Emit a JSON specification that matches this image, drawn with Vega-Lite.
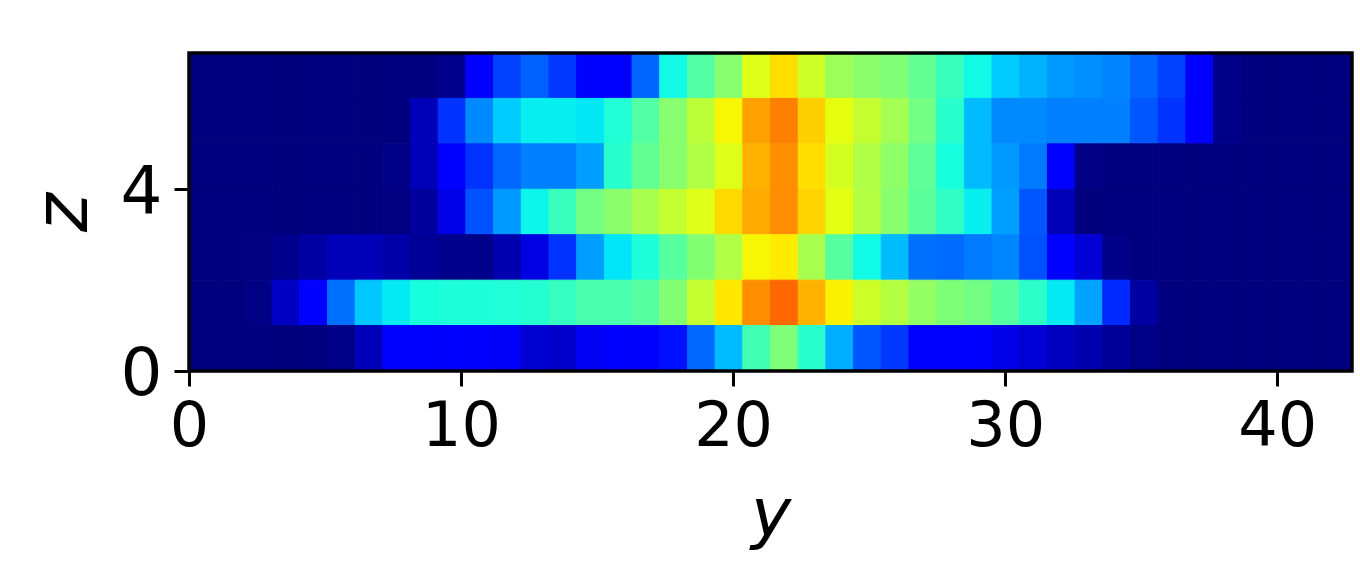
{"$schema":"https://vega.github.io/schema/vega-lite/v6.json","width":1163,"height":318,"autosize":"none","padding":{"left":189,"top":53,"right":8,"bottom":209},"background":"white","config":{"view":{"stroke":null},"font":"DejaVu Sans"},"layer":[{"data":{"values":[
{"y0":0,"y1":1.018,"z0":6,"z1":7,"v":0},{"y0":1.018,"y1":2.036,"z0":6,"z1":7,"v":0},{"y0":2.036,"y1":3.054,"z0":6,"z1":7,"v":0},{"y0":3.054,"y1":4.071,"z0":6,"z1":7,"v":0},{"y0":4.071,"y1":5.089,"z0":6,"z1":7,"v":0},{"y0":5.089,"y1":6.107,"z0":6,"z1":7,"v":0},{"y0":6.107,"y1":7.125,"z0":6,"z1":7,"v":0},{"y0":7.125,"y1":8.143,"z0":6,"z1":7,"v":0},{"y0":8.143,"y1":9.161,"z0":6,"z1":7,"v":0},{"y0":9.161,"y1":10.179,"z0":6,"z1":7,"v":0.012},{"y0":10.179,"y1":11.196,"z0":6,"z1":7,"v":0.11},{"y0":11.196,"y1":12.214,"z0":6,"z1":7,"v":0.19},{"y0":12.214,"y1":13.232,"z0":6,"z1":7,"v":0.22},{"y0":13.232,"y1":14.25,"z0":6,"z1":7,"v":0.18},{"y0":14.25,"y1":15.268,"z0":6,"z1":7,"v":0.115},{"y0":15.268,"y1":16.286,"z0":6,"z1":7,"v":0.115},{"y0":16.286,"y1":17.304,"z0":6,"z1":7,"v":0.225},{"y0":17.304,"y1":18.321,"z0":6,"z1":7,"v":0.37},{"y0":18.321,"y1":19.339,"z0":6,"z1":7,"v":0.45},{"y0":19.339,"y1":20.357,"z0":6,"z1":7,"v":0.515},{"y0":20.357,"y1":21.375,"z0":6,"z1":7,"v":0.62},{"y0":21.375,"y1":22.393,"z0":6,"z1":7,"v":0.675},{"y0":22.393,"y1":23.411,"z0":6,"z1":7,"v":0.6},{"y0":23.411,"y1":24.429,"z0":6,"z1":7,"v":0.54},{"y0":24.429,"y1":25.446,"z0":6,"z1":7,"v":0.52},{"y0":25.446,"y1":26.464,"z0":6,"z1":7,"v":0.505},{"y0":26.464,"y1":27.482,"z0":6,"z1":7,"v":0.47},{"y0":27.482,"y1":28.5,"z0":6,"z1":7,"v":0.42},{"y0":28.5,"y1":29.518,"z0":6,"z1":7,"v":0.37},{"y0":29.518,"y1":30.536,"z0":6,"z1":7,"v":0.325},{"y0":30.536,"y1":31.554,"z0":6,"z1":7,"v":0.3},{"y0":31.554,"y1":32.571,"z0":6,"z1":7,"v":0.275},{"y0":32.571,"y1":33.589,"z0":6,"z1":7,"v":0.265},{"y0":33.589,"y1":34.607,"z0":6,"z1":7,"v":0.255},{"y0":34.607,"y1":35.625,"z0":6,"z1":7,"v":0.225},{"y0":35.625,"y1":36.643,"z0":6,"z1":7,"v":0.19},{"y0":36.643,"y1":37.661,"z0":6,"z1":7,"v":0.12},{"y0":37.661,"y1":38.679,"z0":6,"z1":7,"v":0.008},{"y0":38.679,"y1":39.696,"z0":6,"z1":7,"v":0},{"y0":39.696,"y1":40.714,"z0":6,"z1":7,"v":0},{"y0":40.714,"y1":41.732,"z0":6,"z1":7,"v":0},{"y0":41.732,"y1":42.75,"z0":6,"z1":7,"v":0},
{"y0":0,"y1":1.018,"z0":5,"z1":6,"v":0},{"y0":1.018,"y1":2.036,"z0":5,"z1":6,"v":0},{"y0":2.036,"y1":3.054,"z0":5,"z1":6,"v":0},{"y0":3.054,"y1":4.071,"z0":5,"z1":6,"v":0},{"y0":4.071,"y1":5.089,"z0":5,"z1":6,"v":0},{"y0":5.089,"y1":6.107,"z0":5,"z1":6,"v":0},{"y0":6.107,"y1":7.125,"z0":5,"z1":6,"v":0},{"y0":7.125,"y1":8.143,"z0":5,"z1":6,"v":0},{"y0":8.143,"y1":9.161,"z0":5,"z1":6,"v":0.05},{"y0":9.161,"y1":10.179,"z0":5,"z1":6,"v":0.175},{"y0":10.179,"y1":11.196,"z0":5,"z1":6,"v":0.26},{"y0":11.196,"y1":12.214,"z0":5,"z1":6,"v":0.325},{"y0":12.214,"y1":13.232,"z0":5,"z1":6,"v":0.36},{"y0":13.232,"y1":14.25,"z0":5,"z1":6,"v":0.36},{"y0":14.25,"y1":15.268,"z0":5,"z1":6,"v":0.352},{"y0":15.268,"y1":16.286,"z0":5,"z1":6,"v":0.39},{"y0":16.286,"y1":17.304,"z0":5,"z1":6,"v":0.45},{"y0":17.304,"y1":18.321,"z0":5,"z1":6,"v":0.515},{"y0":18.321,"y1":19.339,"z0":5,"z1":6,"v":0.58},{"y0":19.339,"y1":20.357,"z0":5,"z1":6,"v":0.65},{"y0":20.357,"y1":21.375,"z0":5,"z1":6,"v":0.74},{"y0":21.375,"y1":22.393,"z0":5,"z1":6,"v":0.775},{"y0":22.393,"y1":23.411,"z0":5,"z1":6,"v":0.69},{"y0":23.411,"y1":24.429,"z0":5,"z1":6,"v":0.63},{"y0":24.429,"y1":25.446,"z0":5,"z1":6,"v":0.59},{"y0":25.446,"y1":26.464,"z0":5,"z1":6,"v":0.55},{"y0":26.464,"y1":27.482,"z0":5,"z1":6,"v":0.49},{"y0":27.482,"y1":28.5,"z0":5,"z1":6,"v":0.4},{"y0":28.5,"y1":29.518,"z0":5,"z1":6,"v":0.31},{"y0":29.518,"y1":30.536,"z0":5,"z1":6,"v":0.26},{"y0":30.536,"y1":31.554,"z0":5,"z1":6,"v":0.26},{"y0":31.554,"y1":32.571,"z0":5,"z1":6,"v":0.25},{"y0":32.571,"y1":33.589,"z0":5,"z1":6,"v":0.25},{"y0":33.589,"y1":34.607,"z0":5,"z1":6,"v":0.25},{"y0":34.607,"y1":35.625,"z0":5,"z1":6,"v":0.21},{"y0":35.625,"y1":36.643,"z0":5,"z1":6,"v":0.175},{"y0":36.643,"y1":37.661,"z0":5,"z1":6,"v":0.12},{"y0":37.661,"y1":38.679,"z0":5,"z1":6,"v":0.008},{"y0":38.679,"y1":39.696,"z0":5,"z1":6,"v":0},{"y0":39.696,"y1":40.714,"z0":5,"z1":6,"v":0},{"y0":40.714,"y1":41.732,"z0":5,"z1":6,"v":0},{"y0":41.732,"y1":42.75,"z0":5,"z1":6,"v":0},
{"y0":0,"y1":1.018,"z0":4,"z1":5,"v":0},{"y0":1.018,"y1":2.036,"z0":4,"z1":5,"v":0},{"y0":2.036,"y1":3.054,"z0":4,"z1":5,"v":0},{"y0":3.054,"y1":4.071,"z0":4,"z1":5,"v":0},{"y0":4.071,"y1":5.089,"z0":4,"z1":5,"v":0},{"y0":5.089,"y1":6.107,"z0":4,"z1":5,"v":0},{"y0":6.107,"y1":7.125,"z0":4,"z1":5,"v":0},{"y0":7.125,"y1":8.143,"z0":4,"z1":5,"v":0.006},{"y0":8.143,"y1":9.161,"z0":4,"z1":5,"v":0.05},{"y0":9.161,"y1":10.179,"z0":4,"z1":5,"v":0.115},{"y0":10.179,"y1":11.196,"z0":4,"z1":5,"v":0.175},{"y0":11.196,"y1":12.214,"z0":4,"z1":5,"v":0.227},{"y0":12.214,"y1":13.232,"z0":4,"z1":5,"v":0.25},{"y0":13.232,"y1":14.25,"z0":4,"z1":5,"v":0.25},{"y0":14.25,"y1":15.268,"z0":4,"z1":5,"v":0.28},{"y0":15.268,"y1":16.286,"z0":4,"z1":5,"v":0.4},{"y0":16.286,"y1":17.304,"z0":4,"z1":5,"v":0.47},{"y0":17.304,"y1":18.321,"z0":4,"z1":5,"v":0.515},{"y0":18.321,"y1":19.339,"z0":4,"z1":5,"v":0.565},{"y0":19.339,"y1":20.357,"z0":4,"z1":5,"v":0.62},{"y0":20.357,"y1":21.375,"z0":4,"z1":5,"v":0.72},{"y0":21.375,"y1":22.393,"z0":4,"z1":5,"v":0.76},{"y0":22.393,"y1":23.411,"z0":4,"z1":5,"v":0.675},{"y0":23.411,"y1":24.429,"z0":4,"z1":5,"v":0.61},{"y0":24.429,"y1":25.446,"z0":4,"z1":5,"v":0.565},{"y0":25.446,"y1":26.464,"z0":4,"z1":5,"v":0.525},{"y0":26.464,"y1":27.482,"z0":4,"z1":5,"v":0.465},{"y0":27.482,"y1":28.5,"z0":4,"z1":5,"v":0.38},{"y0":28.5,"y1":29.518,"z0":4,"z1":5,"v":0.31},{"y0":29.518,"y1":30.536,"z0":4,"z1":5,"v":0.275},{"y0":30.536,"y1":31.554,"z0":4,"z1":5,"v":0.245},{"y0":31.554,"y1":32.571,"z0":4,"z1":5,"v":0.12},{"y0":32.571,"y1":33.589,"z0":4,"z1":5,"v":0.006},{"y0":33.589,"y1":34.607,"z0":4,"z1":5,"v":0},{"y0":34.607,"y1":35.625,"z0":4,"z1":5,"v":0},{"y0":35.625,"y1":36.643,"z0":4,"z1":5,"v":0},{"y0":36.643,"y1":37.661,"z0":4,"z1":5,"v":0},{"y0":37.661,"y1":38.679,"z0":4,"z1":5,"v":0},{"y0":38.679,"y1":39.696,"z0":4,"z1":5,"v":0},{"y0":39.696,"y1":40.714,"z0":4,"z1":5,"v":0},{"y0":40.714,"y1":41.732,"z0":4,"z1":5,"v":0},{"y0":41.732,"y1":42.75,"z0":4,"z1":5,"v":0},
{"y0":0,"y1":1.018,"z0":3,"z1":4,"v":0},{"y0":1.018,"y1":2.036,"z0":3,"z1":4,"v":0},{"y0":2.036,"y1":3.054,"z0":3,"z1":4,"v":0},{"y0":3.054,"y1":4.071,"z0":3,"z1":4,"v":0},{"y0":4.071,"y1":5.089,"z0":3,"z1":4,"v":0},{"y0":5.089,"y1":6.107,"z0":3,"z1":4,"v":0},{"y0":6.107,"y1":7.125,"z0":3,"z1":4,"v":0},{"y0":7.125,"y1":8.143,"z0":3,"z1":4,"v":0.002},{"y0":8.143,"y1":9.161,"z0":3,"z1":4,"v":0.025},{"y0":9.161,"y1":10.179,"z0":3,"z1":4,"v":0.09},{"y0":10.179,"y1":11.196,"z0":3,"z1":4,"v":0.205},{"y0":11.196,"y1":12.214,"z0":3,"z1":4,"v":0.275},{"y0":12.214,"y1":13.232,"z0":3,"z1":4,"v":0.365},{"y0":13.232,"y1":14.25,"z0":3,"z1":4,"v":0.42},{"y0":14.25,"y1":15.268,"z0":3,"z1":4,"v":0.49},{"y0":15.268,"y1":16.286,"z0":3,"z1":4,"v":0.52},{"y0":16.286,"y1":17.304,"z0":3,"z1":4,"v":0.555},{"y0":17.304,"y1":18.321,"z0":3,"z1":4,"v":0.59},{"y0":18.321,"y1":19.339,"z0":3,"z1":4,"v":0.62},{"y0":19.339,"y1":20.357,"z0":3,"z1":4,"v":0.68},{"y0":20.357,"y1":21.375,"z0":3,"z1":4,"v":0.73},{"y0":21.375,"y1":22.393,"z0":3,"z1":4,"v":0.76},{"y0":22.393,"y1":23.411,"z0":3,"z1":4,"v":0.685},{"y0":23.411,"y1":24.429,"z0":3,"z1":4,"v":0.625},{"y0":24.429,"y1":25.446,"z0":3,"z1":4,"v":0.57},{"y0":25.446,"y1":26.464,"z0":3,"z1":4,"v":0.515},{"y0":26.464,"y1":27.482,"z0":3,"z1":4,"v":0.46},{"y0":27.482,"y1":28.5,"z0":3,"z1":4,"v":0.41},{"y0":28.5,"y1":29.518,"z0":3,"z1":4,"v":0.36},{"y0":29.518,"y1":30.536,"z0":3,"z1":4,"v":0.28},{"y0":30.536,"y1":31.554,"z0":3,"z1":4,"v":0.21},{"y0":31.554,"y1":32.571,"z0":3,"z1":4,"v":0.05},{"y0":32.571,"y1":33.589,"z0":3,"z1":4,"v":0},{"y0":33.589,"y1":34.607,"z0":3,"z1":4,"v":0},{"y0":34.607,"y1":35.625,"z0":3,"z1":4,"v":0},{"y0":35.625,"y1":36.643,"z0":3,"z1":4,"v":0},{"y0":36.643,"y1":37.661,"z0":3,"z1":4,"v":0},{"y0":37.661,"y1":38.679,"z0":3,"z1":4,"v":0},{"y0":38.679,"y1":39.696,"z0":3,"z1":4,"v":0},{"y0":39.696,"y1":40.714,"z0":3,"z1":4,"v":0},{"y0":40.714,"y1":41.732,"z0":3,"z1":4,"v":0},{"y0":41.732,"y1":42.75,"z0":3,"z1":4,"v":0},
{"y0":0,"y1":1.018,"z0":2,"z1":3,"v":0},{"y0":1.018,"y1":2.036,"z0":2,"z1":3,"v":0},{"y0":2.036,"y1":3.054,"z0":2,"z1":3,"v":0.001},{"y0":3.054,"y1":4.071,"z0":2,"z1":3,"v":0.012},{"y0":4.071,"y1":5.089,"z0":2,"z1":3,"v":0.03},{"y0":5.089,"y1":6.107,"z0":2,"z1":3,"v":0.05},{"y0":6.107,"y1":7.125,"z0":2,"z1":3,"v":0.05},{"y0":7.125,"y1":8.143,"z0":2,"z1":3,"v":0.035},{"y0":8.143,"y1":9.161,"z0":2,"z1":3,"v":0.02},{"y0":9.161,"y1":10.179,"z0":2,"z1":3,"v":0.01},{"y0":10.179,"y1":11.196,"z0":2,"z1":3,"v":0.01},{"y0":11.196,"y1":12.214,"z0":2,"z1":3,"v":0.04},{"y0":12.214,"y1":13.232,"z0":2,"z1":3,"v":0.085},{"y0":13.232,"y1":14.25,"z0":2,"z1":3,"v":0.175},{"y0":14.25,"y1":15.268,"z0":2,"z1":3,"v":0.28},{"y0":15.268,"y1":16.286,"z0":2,"z1":3,"v":0.35},{"y0":16.286,"y1":17.304,"z0":2,"z1":3,"v":0.385},{"y0":17.304,"y1":18.321,"z0":2,"z1":3,"v":0.455},{"y0":18.321,"y1":19.339,"z0":2,"z1":3,"v":0.51},{"y0":19.339,"y1":20.357,"z0":2,"z1":3,"v":0.565},{"y0":20.357,"y1":21.375,"z0":2,"z1":3,"v":0.65},{"y0":21.375,"y1":22.393,"z0":2,"z1":3,"v":0.66},{"y0":22.393,"y1":23.411,"z0":2,"z1":3,"v":0.555},{"y0":23.411,"y1":24.429,"z0":2,"z1":3,"v":0.455},{"y0":24.429,"y1":25.446,"z0":2,"z1":3,"v":0.37},{"y0":25.446,"y1":26.464,"z0":2,"z1":3,"v":0.31},{"y0":26.464,"y1":27.482,"z0":2,"z1":3,"v":0.235},{"y0":27.482,"y1":28.5,"z0":2,"z1":3,"v":0.23},{"y0":28.5,"y1":29.518,"z0":2,"z1":3,"v":0.245},{"y0":29.518,"y1":30.536,"z0":2,"z1":3,"v":0.258},{"y0":30.536,"y1":31.554,"z0":2,"z1":3,"v":0.205},{"y0":31.554,"y1":32.571,"z0":2,"z1":3,"v":0.12},{"y0":32.571,"y1":33.589,"z0":2,"z1":3,"v":0.075},{"y0":33.589,"y1":34.607,"z0":2,"z1":3,"v":0.008},{"y0":34.607,"y1":35.625,"z0":2,"z1":3,"v":0},{"y0":35.625,"y1":36.643,"z0":2,"z1":3,"v":0},{"y0":36.643,"y1":37.661,"z0":2,"z1":3,"v":0},{"y0":37.661,"y1":38.679,"z0":2,"z1":3,"v":0},{"y0":38.679,"y1":39.696,"z0":2,"z1":3,"v":0},{"y0":39.696,"y1":40.714,"z0":2,"z1":3,"v":0},{"y0":40.714,"y1":41.732,"z0":2,"z1":3,"v":0},{"y0":41.732,"y1":42.75,"z0":2,"z1":3,"v":0},
{"y0":0,"y1":1.018,"z0":1,"z1":2,"v":0},{"y0":1.018,"y1":2.036,"z0":1,"z1":2,"v":0},{"y0":2.036,"y1":3.054,"z0":1,"z1":2,"v":0.004},{"y0":3.054,"y1":4.071,"z0":1,"z1":2,"v":0.06},{"y0":4.071,"y1":5.089,"z0":1,"z1":2,"v":0.115},{"y0":5.089,"y1":6.107,"z0":1,"z1":2,"v":0.235},{"y0":6.107,"y1":7.125,"z0":1,"z1":2,"v":0.32},{"y0":7.125,"y1":8.143,"z0":1,"z1":2,"v":0.355},{"y0":8.143,"y1":9.161,"z0":1,"z1":2,"v":0.38},{"y0":9.161,"y1":10.179,"z0":1,"z1":2,"v":0.385},{"y0":10.179,"y1":11.196,"z0":1,"z1":2,"v":0.385},{"y0":11.196,"y1":12.214,"z0":1,"z1":2,"v":0.39},{"y0":12.214,"y1":13.232,"z0":1,"z1":2,"v":0.395},{"y0":13.232,"y1":14.25,"z0":1,"z1":2,"v":0.415},{"y0":14.25,"y1":15.268,"z0":1,"z1":2,"v":0.44},{"y0":15.268,"y1":16.286,"z0":1,"z1":2,"v":0.44},{"y0":16.286,"y1":17.304,"z0":1,"z1":2,"v":0.455},{"y0":17.304,"y1":18.321,"z0":1,"z1":2,"v":0.51},{"y0":18.321,"y1":19.339,"z0":1,"z1":2,"v":0.59},{"y0":19.339,"y1":20.357,"z0":1,"z1":2,"v":0.665},{"y0":20.357,"y1":21.375,"z0":1,"z1":2,"v":0.76},{"y0":21.375,"y1":22.393,"z0":1,"z1":2,"v":0.8},{"y0":22.393,"y1":23.411,"z0":1,"z1":2,"v":0.72},{"y0":23.411,"y1":24.429,"z0":1,"z1":2,"v":0.655},{"y0":24.429,"y1":25.446,"z0":1,"z1":2,"v":0.6},{"y0":25.446,"y1":26.464,"z0":1,"z1":2,"v":0.57},{"y0":26.464,"y1":27.482,"z0":1,"z1":2,"v":0.53},{"y0":27.482,"y1":28.5,"z0":1,"z1":2,"v":0.505},{"y0":28.5,"y1":29.518,"z0":1,"z1":2,"v":0.49},{"y0":29.518,"y1":30.536,"z0":1,"z1":2,"v":0.455},{"y0":30.536,"y1":31.554,"z0":1,"z1":2,"v":0.405},{"y0":31.554,"y1":32.571,"z0":1,"z1":2,"v":0.355},{"y0":32.571,"y1":33.589,"z0":1,"z1":2,"v":0.285},{"y0":33.589,"y1":34.607,"z0":1,"z1":2,"v":0.165},{"y0":34.607,"y1":35.625,"z0":1,"z1":2,"v":0.03},{"y0":35.625,"y1":36.643,"z0":1,"z1":2,"v":0},{"y0":36.643,"y1":37.661,"z0":1,"z1":2,"v":0},{"y0":37.661,"y1":38.679,"z0":1,"z1":2,"v":0},{"y0":38.679,"y1":39.696,"z0":1,"z1":2,"v":0},{"y0":39.696,"y1":40.714,"z0":1,"z1":2,"v":0},{"y0":40.714,"y1":41.732,"z0":1,"z1":2,"v":0},{"y0":41.732,"y1":42.75,"z0":1,"z1":2,"v":0},
{"y0":0,"y1":1.018,"z0":0,"z1":1,"v":0},{"y0":1.018,"y1":2.036,"z0":0,"z1":1,"v":0},{"y0":2.036,"y1":3.054,"z0":0,"z1":1,"v":0},{"y0":3.054,"y1":4.071,"z0":0,"z1":1,"v":0},{"y0":4.071,"y1":5.089,"z0":0,"z1":1,"v":0},{"y0":5.089,"y1":6.107,"z0":0,"z1":1,"v":0.006},{"y0":6.107,"y1":7.125,"z0":0,"z1":1,"v":0.05},{"y0":7.125,"y1":8.143,"z0":0,"z1":1,"v":0.115},{"y0":8.143,"y1":9.161,"z0":0,"z1":1,"v":0.12},{"y0":9.161,"y1":10.179,"z0":0,"z1":1,"v":0.12},{"y0":10.179,"y1":11.196,"z0":0,"z1":1,"v":0.12},{"y0":11.196,"y1":12.214,"z0":0,"z1":1,"v":0.105},{"y0":12.214,"y1":13.232,"z0":0,"z1":1,"v":0.07},{"y0":13.232,"y1":14.25,"z0":0,"z1":1,"v":0.065},{"y0":14.25,"y1":15.268,"z0":0,"z1":1,"v":0.1},{"y0":15.268,"y1":16.286,"z0":0,"z1":1,"v":0.11},{"y0":16.286,"y1":17.304,"z0":0,"z1":1,"v":0.11},{"y0":17.304,"y1":18.321,"z0":0,"z1":1,"v":0.14},{"y0":18.321,"y1":19.339,"z0":0,"z1":1,"v":0.227},{"y0":19.339,"y1":20.357,"z0":0,"z1":1,"v":0.31},{"y0":20.357,"y1":21.375,"z0":0,"z1":1,"v":0.43},{"y0":21.375,"y1":22.393,"z0":0,"z1":1,"v":0.505},{"y0":22.393,"y1":23.411,"z0":0,"z1":1,"v":0.4},{"y0":23.411,"y1":24.429,"z0":0,"z1":1,"v":0.295},{"y0":24.429,"y1":25.446,"z0":0,"z1":1,"v":0.21},{"y0":25.446,"y1":26.464,"z0":0,"z1":1,"v":0.18},{"y0":26.464,"y1":27.482,"z0":0,"z1":1,"v":0.115},{"y0":27.482,"y1":28.5,"z0":0,"z1":1,"v":0.115},{"y0":28.5,"y1":29.518,"z0":0,"z1":1,"v":0.115},{"y0":29.518,"y1":30.536,"z0":0,"z1":1,"v":0.09},{"y0":30.536,"y1":31.554,"z0":0,"z1":1,"v":0.075},{"y0":31.554,"y1":32.571,"z0":0,"z1":1,"v":0.055},{"y0":32.571,"y1":33.589,"z0":0,"z1":1,"v":0.04},{"y0":33.589,"y1":34.607,"z0":0,"z1":1,"v":0.02},{"y0":34.607,"y1":35.625,"z0":0,"z1":1,"v":0.006},{"y0":35.625,"y1":36.643,"z0":0,"z1":1,"v":0},{"y0":36.643,"y1":37.661,"z0":0,"z1":1,"v":0},{"y0":37.661,"y1":38.679,"z0":0,"z1":1,"v":0},{"y0":38.679,"y1":39.696,"z0":0,"z1":1,"v":0},{"y0":39.696,"y1":40.714,"z0":0,"z1":1,"v":0},{"y0":40.714,"y1":41.732,"z0":0,"z1":1,"v":0},{"y0":41.732,"y1":42.75,"z0":0,"z1":1,"v":0}
]},"mark":{"type":"rect","strokeWidth":1},"encoding":{"x":{"field":"y0","type":"quantitative","scale":{"domain":[0,42.75],"nice":false,"zero":false},"axis":{"title":"y","titleFont":"DejaVu Sans","titleFontStyle":"italic","titleFontWeight":"normal","titleFontSize":68,"titleColor":"black","titlePadding":24,"values":[0,10,20,30,40],"labelFont":"DejaVu Sans","labelFontSize":62,"labelColor":"black","labelPadding":10,"labelFlush":false,"tickColor":"black","tickSize":15,"tickWidth":3,"domain":false,"grid":false,"format":"d"}},"x2":{"field":"y1"},"y":{"field":"z0","type":"quantitative","scale":{"domain":[0,7],"nice":false,"zero":false},"axis":{"title":"z","titleFont":"DejaVu Sans","titleFontStyle":"italic","titleFontWeight":"normal","titleFontSize":74,"titleColor":"black","titlePadding":18,"values":[0,4],"labelFont":"DejaVu Sans","labelFontSize":66,"labelColor":"black","labelPadding":12,"labelOffset":3,"tickColor":"black","tickSize":15,"tickWidth":3,"domain":false,"grid":false,"format":"d"}},"y2":{"field":"z1"},"color":{"field":"v","type":"quantitative","legend":null,"scale":{"domain":[0,0.11,0.125,0.34,0.35,0.375,0.64,0.66,0.89,0.91,1],"range":["#00007f","#0000ff","#0000ff","#00dbff","#00e5f7","#14ffe2","#eeff08","#ffec00","#ff1300","#e80000","#800000"],"interpolate":"rgb"}},"stroke":{"field":"v","type":"quantitative","legend":null,"scale":{"domain":[0,0.11,0.125,0.34,0.35,0.375,0.64,0.66,0.89,0.91,1],"range":["#00007f","#0000ff","#0000ff","#00dbff","#00e5f7","#14ffe2","#eeff08","#ffec00","#ff1300","#e80000","#800000"],"interpolate":"rgb"}}}},{"data":{"values":[{"y0":0,"y1":42.75,"z0":0,"z1":7}]},"mark":{"type":"rect","fill":null,"fillOpacity":0,"stroke":"black","strokeWidth":3.5},"encoding":{"x":{"field":"y0","type":"quantitative"},"x2":{"field":"y1"},"y":{"field":"z0","type":"quantitative"},"y2":{"field":"z1"}}}]}
